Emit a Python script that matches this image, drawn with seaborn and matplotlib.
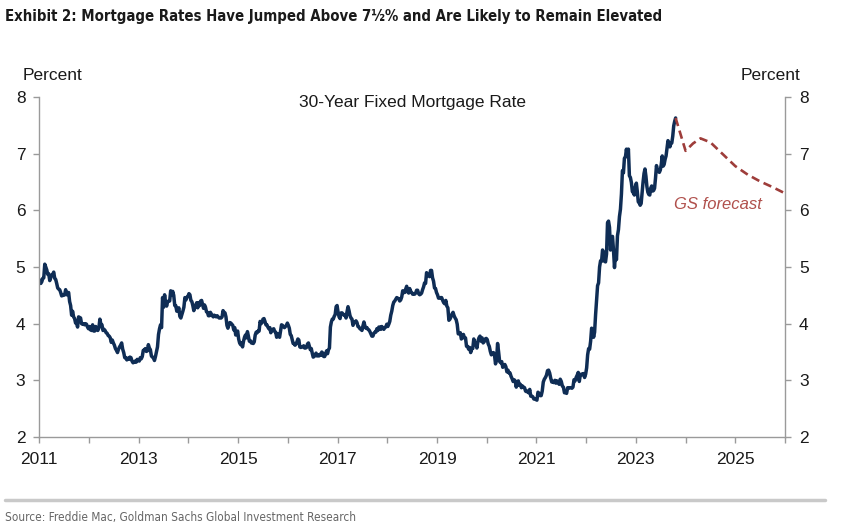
import numpy as np
import pandas as pd
import matplotlib
matplotlib.use("Agg")
import matplotlib.pyplot as plt
from matplotlib import font_manager as fm
from matplotlib.lines import Line2D
from matplotlib.ticker import FixedLocator
import seaborn as sns

# ---- data: Freddie Mac 30-year fixed mortgage rate, weekly readings per year ----
r2011 = [4.77, 4.71, 4.74, 4.80, 4.81, 5.05, 5.00, 4.95, 4.87, 4.88, 4.76, 4.81, 4.86, 4.87, 4.91, 4.80,
         4.78, 4.71, 4.63, 4.61, 4.60, 4.55, 4.49, 4.50, 4.50, 4.51, 4.60, 4.51, 4.52, 4.55, 4.39, 4.32,
         4.15, 4.22, 4.12, 4.09, 4.01, 4.01, 3.94, 4.12, 4.11, 4.10, 4.00, 3.99, 4.00, 3.98, 4.00, 3.99,
         3.94, 3.91]
r2012 = [3.95, 3.89, 3.88, 3.98, 3.87, 3.87, 3.95, 3.90, 3.88, 3.92, 4.08, 3.99, 3.98, 3.88, 3.90, 3.88,
         3.84, 3.83, 3.79, 3.78, 3.75, 3.67, 3.71, 3.66, 3.62, 3.56, 3.53, 3.49, 3.55, 3.59, 3.62, 3.66,
         3.55, 3.49, 3.40, 3.40, 3.36, 3.39, 3.37, 3.41, 3.40, 3.34, 3.31, 3.32, 3.34, 3.32, 3.37, 3.35]
r2013 = [3.34, 3.40, 3.38, 3.42, 3.53, 3.53, 3.56, 3.51, 3.52, 3.63, 3.57, 3.54, 3.43, 3.41, 3.40, 3.35,
         3.42, 3.51, 3.59, 3.81, 3.91, 3.98, 3.93, 4.46, 4.29, 4.51, 4.37, 4.31, 4.39, 4.40, 4.40, 4.58,
         4.51, 4.57, 4.50, 4.32, 4.32, 4.22, 4.23, 4.28, 4.13, 4.10, 4.16, 4.22, 4.29, 4.46, 4.42, 4.47,
         4.48]
r2014 = [4.53, 4.51, 4.41, 4.39, 4.32, 4.23, 4.28, 4.33, 4.37, 4.28, 4.37, 4.32, 4.40, 4.41, 4.34, 4.27,
         4.33, 4.29, 4.21, 4.20, 4.14, 4.14, 4.20, 4.17, 4.14, 4.12, 4.15, 4.13, 4.12, 4.14, 4.12, 4.10,
         4.10, 4.10, 4.12, 4.23, 4.20, 4.19, 4.12, 3.97, 3.92, 3.98, 4.02, 4.01, 3.99, 3.97, 3.89, 3.93,
         3.80, 3.83, 3.87]
r2015 = [3.73, 3.66, 3.63, 3.66, 3.59, 3.69, 3.76, 3.80, 3.75, 3.86, 3.78, 3.69, 3.70, 3.66, 3.67, 3.65,
         3.68, 3.80, 3.85, 3.84, 3.87, 3.87, 4.04, 4.00, 4.02, 4.08, 4.09, 4.04, 3.98, 3.98, 3.94, 3.91,
         3.93, 3.84, 3.89, 3.90, 3.91, 3.86, 3.85, 3.76, 3.82, 3.79, 3.76, 3.87, 3.98, 3.97, 3.95, 3.93,
         3.95, 3.97, 4.01]
r2016 = [3.97, 3.92, 3.81, 3.79, 3.72, 3.65, 3.65, 3.62, 3.64, 3.68, 3.73, 3.71, 3.59, 3.58, 3.59, 3.59,
         3.61, 3.57, 3.57, 3.58, 3.64, 3.66, 3.60, 3.54, 3.56, 3.48, 3.41, 3.42, 3.45, 3.48, 3.43, 3.45,
         3.43, 3.46, 3.44, 3.50, 3.48, 3.42, 3.42, 3.47, 3.52, 3.47, 3.54, 3.57, 3.94, 4.03, 4.08, 4.08,
         4.13, 4.16, 4.30, 4.32]
r2017 = [4.20, 4.12, 4.09, 4.19, 4.19, 4.17, 4.15, 4.16, 4.10, 4.21, 4.30, 4.23, 4.14, 4.10, 4.08, 3.97,
         4.03, 4.02, 4.05, 4.02, 3.95, 3.94, 3.91, 3.90, 3.88, 3.96, 4.03, 3.96, 3.92, 3.93, 3.90, 3.89,
         3.86, 3.82, 3.78, 3.78, 3.83, 3.85, 3.85, 3.91, 3.88, 3.94, 3.94, 3.90, 3.95, 3.92, 3.90, 3.93,
         3.94, 3.99]
r2018 = [3.95, 3.99, 4.04, 4.15, 4.22, 4.32, 4.38, 4.40, 4.43, 4.46, 4.45, 4.44, 4.40, 4.42, 4.47, 4.58,
         4.55, 4.55, 4.61, 4.66, 4.56, 4.54, 4.62, 4.57, 4.55, 4.52, 4.53, 4.52, 4.54, 4.59, 4.59, 4.53,
         4.51, 4.52, 4.54, 4.60, 4.65, 4.72, 4.71, 4.90, 4.85, 4.86, 4.83, 4.94, 4.94, 4.81, 4.75, 4.63,
         4.62, 4.55]
r2019 = [4.51, 4.45, 4.45, 4.46, 4.46, 4.41, 4.37, 4.35, 4.41, 4.31, 4.28, 4.06, 4.08, 4.12, 4.17, 4.20,
         4.14, 4.10, 4.07, 3.99, 3.82, 3.82, 3.84, 3.73, 3.75, 3.81, 3.75, 3.75, 3.60, 3.60, 3.55, 3.58,
         3.49, 3.56, 3.56, 3.73, 3.64, 3.65, 3.57, 3.69, 3.75, 3.78, 3.69, 3.75, 3.66, 3.68, 3.73, 3.74]
r2020 = [3.72, 3.64, 3.60, 3.51, 3.45, 3.47, 3.49, 3.45, 3.29, 3.36, 3.65, 3.50, 3.33, 3.31, 3.33, 3.23,
         3.26, 3.28, 3.24, 3.15, 3.18, 3.13, 3.13, 3.07, 3.03, 2.98, 3.01, 2.99, 2.88, 2.96, 2.99, 2.91,
         2.93, 2.87, 2.90, 2.88, 2.87, 2.81, 2.80, 2.81, 2.78, 2.84, 2.72, 2.72, 2.71, 2.67, 2.67, 2.66]
r2021 = [2.65, 2.79, 2.77, 2.73, 2.73, 2.81, 2.97, 3.02, 3.05, 3.09, 3.17, 3.18, 3.13, 3.04, 2.97, 2.98,
         2.96, 3.00, 2.95, 2.99, 2.96, 2.93, 3.02, 2.98, 2.90, 2.88, 2.78, 2.80, 2.77, 2.87, 2.86, 2.87,
         2.87, 2.86, 2.88, 3.01, 2.99, 3.05, 3.09, 3.14, 2.98, 3.10, 3.11, 3.10, 3.12, 3.05, 3.11]
r2022 = [3.22, 3.45, 3.56, 3.55, 3.69, 3.92, 3.89, 3.76, 3.85, 4.16, 4.42, 4.67, 4.72, 5.00, 5.11, 5.10,
         5.30, 5.25, 5.10, 5.09, 5.23, 5.78, 5.81, 5.70, 5.30, 5.51, 5.54, 5.30, 4.99, 5.22, 5.13, 5.55,
         5.66, 5.89, 6.02, 6.29, 6.70, 6.66, 6.92, 6.94, 7.08, 6.95, 7.08, 6.61, 6.58, 6.49, 6.33, 6.31,
         6.27, 6.42]
r2023 = [6.48, 6.33, 6.15, 6.13, 6.09, 6.12, 6.32, 6.50, 6.65, 6.73, 6.60, 6.42, 6.32, 6.28, 6.27, 6.39,
         6.43, 6.34, 6.35, 6.39, 6.57, 6.79, 6.71, 6.69, 6.67, 6.71, 6.81, 6.96, 6.78, 6.81, 6.90, 6.96,
         7.09, 7.23, 7.18, 7.12, 7.18, 7.19, 7.31, 7.49, 7.57, 7.63]
years = [2011, 2012, 2013, 2014, 2015, 2016, 2017, 2018, 2019, 2020, 2021, 2022, 2023]
yearly = [r2011, r2012, r2013, r2014, r2015, r2016, r2017, r2018, r2019, r2020, r2021, r2022, r2023]
last_obs_fraction = 0.80   # last weekly reading ~ 19 Oct 2023

# GS forecast path (decimal year, percent)
fc_year = [2023.80, 2024.00, 2024.15, 2024.30, 2024.50, 2024.75, 2025.00, 2025.25, 2025.50, 2025.75, 2026.00]
fc_rate = [7.63, 7.05, 7.18, 7.27, 7.20, 6.99, 6.78, 6.63, 6.51, 6.41, 6.30]

x_ticks_major = [2011, 2013, 2015, 2017, 2019, 2021, 2023, 2025]
x_ticks_minor = [2012, 2014, 2016, 2018, 2020, 2022, 2024, 2026]
y_ticks = [2, 3, 4, 5, 6, 7, 8]

# ---- build frames ----
rows = []
for yr, vals in zip(years, yearly):
    end = last_obs_fraction if yr == years[-1] else 0.99
    pos = yr + np.linspace(0.01, end, len(vals))
    rows.append(pd.DataFrame({"t": pos, "rate": vals}))
actual = pd.concat(rows, ignore_index=True)
forecast = pd.DataFrame({"t": fc_year, "rate": fc_rate})

# ---- style ----
sns.set_theme(style="white")
plt.rcParams["font.family"] = ["Liberation Sans", "DejaVu Sans"]


def _w(f):
    w = f.weight
    if isinstance(w, str):
        w = fm.weight_dict.get(w, 400)
    return int(w)


cands = [f for f in fm.fontManager.ttflist
         if ("Narrow" in f.name or "Condensed" in f.name
             or f.stretch in ("condensed", "semi-condensed", "extra-condensed"))
         and "Mono" not in f.name and f.style == "normal"]
bold_fp = reg_fp = None
if cands:
    bolds = sorted([f for f in cands if 600 <= _w(f) <= 800], key=lambda f: abs(_w(f) - 700))
    regs = sorted([f for f in cands if 350 <= _w(f) <= 500], key=lambda f: abs(_w(f) - 400))
    if bolds:
        bold_fp = fm.FontProperties(fname=bolds[0].fname)
    if regs:
        reg_fp = fm.FontProperties(fname=regs[0].fname)
if bold_fp is None:
    bold_fp = fm.FontProperties(family=["Liberation Sans", "DejaVu Sans"], weight="bold")
if reg_fp is None:
    reg_fp = fm.FontProperties(family=["Liberation Sans", "DejaVu Sans"])

W, H = 848, 529
fig = plt.figure(figsize=(W / 100, H / 100), dpi=100)
ax = fig.add_axes([39.3 / W, 1 - 437 / H, (785 - 39.3) / W, (437 - 97) / H])

navy = "#0f2d55"
fc_col = "#9e3d3a"

sns.lineplot(data=actual, x="t", y="rate", ax=ax, color=navy, linewidth=2.5, sort=False)
sns.lineplot(data=forecast, x="t", y="rate", ax=ax, color=fc_col, linewidth=1.9,
             dashes=False, sort=False)
ax.lines[-1].set_dashes((3.2, 1.8))

ax.set_xlim(2011, 2026)
ax.set_ylim(2, 8)
ax.xaxis.set_major_locator(FixedLocator(x_ticks_major))
ax.xaxis.set_minor_locator(FixedLocator(x_ticks_minor))
ax.yaxis.set_major_locator(FixedLocator(y_ticks))
ax.set_xticklabels([str(v) for v in x_ticks_major])
ax.set_xlabel("")
ax.set_ylabel("")

spine_col = "#9a9a9a"
for s in ["left", "right", "bottom"]:
    ax.spines[s].set_visible(True)
    ax.spines[s].set_color(spine_col)
    ax.spines[s].set_linewidth(1.0)
ax.spines["top"].set_visible(False)

ax.tick_params(axis="y", which="both", left=True, right=True, labelleft=True, labelright=True,
               direction="out", length=4, width=1, color=spine_col, labelsize=12.5,
               labelcolor="#1a1a1a", pad=6)
ax.tick_params(axis="x", which="both", bottom=True, direction="out", length=4, width=1,
               color=spine_col, labelsize=12.5, labelcolor="#1a1a1a", pad=7)
ax.grid(False)

ax.text(0.5, 0.985, "30-Year Fixed Mortgage Rate", transform=ax.transAxes, ha="center", va="center",
        fontsize=12.5, color="#1a1a1a")
ax.text(2024.65, 6.1, "GS forecast", ha="center", va="center", fontsize=12, style="italic",
        color="#b0504c")

# ---- figure texts ----
title = "Exhibit 2: Mortgage Rates Have Jumped Above 7\u00bd% and Are Likely to Remain Elevated"
source = "Source: Freddie Mac, Goldman Sachs Global Investment Research"
t_title = fig.text(5 / W, 1 - 17 / H, title, ha="left", va="center", color="#1a1a1a",
                   fontproperties=bold_fp)
t_title.set_fontsize(13)
fig.text(53 / W, 1 - 75 / H, "Percent", ha="center", va="center", fontsize=12.5, color="#1a1a1a")
fig.text(771 / W, 1 - 75 / H, "Percent", ha="center", va="center", fontsize=12.5, color="#1a1a1a")
fig.add_artist(Line2D([5 / W, 825 / W], [1 - 500 / H, 1 - 500 / H], color="#c9c9c9", linewidth=2.5))
t_src = fig.text(5 / W, 1 - 517 / H, source, ha="left", va="center", color="#666666",
                 fontproperties=reg_fp)
t_src.set_fontsize(9)

# fit the two header/footer lines to the widths they occupy in the reference
fig.canvas.draw()
rend = fig.canvas.get_renderer()
for txt, target in ((t_title, 660.0), (t_src, 349.0)):
    wpx = txt.get_window_extent(rend).width
    if wpx > 0:
        txt.set_fontsize(txt.get_fontsize() * target / wpx)

fig.savefig("out.png", dpi=100)
